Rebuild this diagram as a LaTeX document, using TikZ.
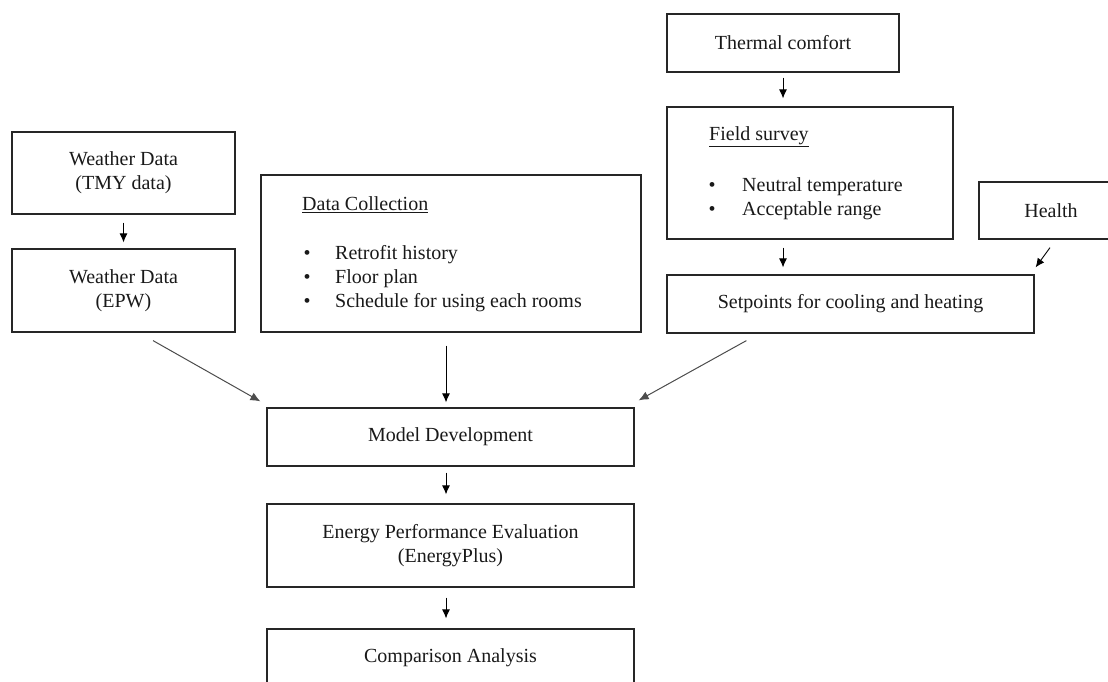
\documentclass[tikz,border=0pt]{standalone}
\usepackage{fontspec}
\setmainfont{Liberation Serif}
\usetikzlibrary{arrows.meta}
\begin{document}
\begin{tikzpicture}[x=1pt,y=-1pt,
  box/.style={draw=black!85, line width=1.2pt, rectangle, inner sep=0pt,
    font=\fontsize{20}{24}\selectfont, align=center, text=black!90},
  txt/.style={inner sep=0pt, anchor=west, font=\fontsize{20}{24}\selectfont, text=black!90},
  arr/.style={draw=black, line width=0.9pt, -{Latex[length=9pt,width=8pt]}},
  darr/.style={draw=black!70, line width=1pt, -{Latex[length=10pt,width=8.5pt]}}]
\useasboundingbox (0,0) rectangle (1108,682);
\clip (0,0) rectangle (1108,682);
% boxes
\node[box, minimum width=223pt, minimum height=82pt] (tmy) at (123.5,173) {Weather Data\\(TMY data)};
\node[box, minimum width=223pt, minimum height=83pt] (epw) at (123.5,290.5) {Weather Data\\(EPW)};
\node[box, minimum width=380pt, minimum height=157pt] (dc) at (451,253.5) {};
\node[box, minimum width=232pt, minimum height=58pt] (tc) at (783,43) {Thermal comfort};
\node[box, minimum width=286pt, minimum height=132pt] (fs) at (810,173) {};
\node[box, minimum width=144pt, minimum height=57pt] (hl) at (1051,210.5) {Health};
\node[box, minimum width=367pt, minimum height=58pt] (sp) at (850.5,304) {Setpoints for cooling and heating};
\node[box, minimum width=367pt, minimum height=58pt] (md) at (450.5,437) {Model Development};
\node[box, minimum width=367pt, minimum height=83pt] (ep) at (450.5,545.5) {Energy Performance Evaluation\\(EnergyPlus)};
\node[box, minimum width=367pt, minimum height=83pt] (ca) at (450.5,670.5) {};
\node[txt, anchor=center] (catext) at (450.5,658) {Comparison Analysis};
% inner texts: data collection
\node[txt] (dct) at (302,205) {\underline{Data Collection}};
\node[txt, anchor=center] (dcb1) at (307,255) {\textbullet};
\node[txt, anchor=center] (dcb2) at (307,279) {\textbullet};
\node[txt, anchor=center] (dcb3) at (307,303) {\textbullet};
\node[txt] (dci1) at (335,255) {Retrofit history};
\node[txt] (dci2) at (335,279) {Floor plan};
\node[txt] (dci3) at (335,303) {Schedule for using each rooms};
% inner texts: field survey
\node[txt] (fst) at (709,137) {\underline{Field survey}};
\node[txt, anchor=center] (fsb1) at (712,187) {\textbullet};
\node[txt, anchor=center] (fsb2) at (712,211) {\textbullet};
\node[txt] (fsi1) at (742,187) {Neutral temperature};
\node[txt] (fsi2) at (742,211) {Acceptable range};
% arrows
\draw[arr, shorten <=8pt, shorten >=6pt] (tmy.south) -- (epw.north);
\draw[arr, shorten <=5pt, shorten >=8pt] (tc.south) -- (fs.north -| tc.south);
\draw[arr, shorten <=8pt, shorten >=7pt] (fs.south -| tc.south) -- (sp.north -| tc.south);
\draw[arr] ([shift={(-1,8)}]hl.south) -- ([shift={(1,-7)}]sp.north east);
\draw[arr, shorten <=13pt, shorten >=5pt] ([xshift=-5pt]dc.south) -- ([xshift=-4.5pt]md.north);
\draw[darr] ([shift={(29.5,8)}]epw.south) -- ([shift={(-6,-6)}]md.north west);
\draw[darr] ([shift={(80,7)}]sp.south west) -- ([shift={(4,-7)}]md.north east);
\draw[arr, shorten <=6pt, shorten >=9pt] ([xshift=-4.5pt]md.south) -- ([xshift=-4.5pt]ep.north);
\draw[arr, shorten <=10pt, shorten >=10pt] ([xshift=-4.5pt]ep.south) -- ([xshift=-4.5pt]ca.north);
\end{tikzpicture}
\end{document}
